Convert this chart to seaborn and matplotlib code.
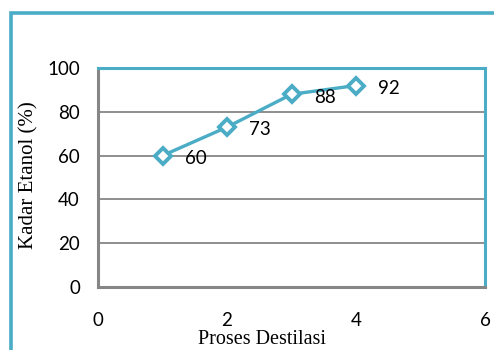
import matplotlib
matplotlib.use("Agg")
import matplotlib.pyplot as plt
from matplotlib.patches import Rectangle
import seaborn as sns
import pandas as pd

# Data
proses = [1, 2, 3, 4]
kadar = [60, 73, 88, 92]
x_ticks = [0, 2, 4, 6]
y_ticks = [0, 20, 40, 60, 80, 100]
x_title = "Proses Destilasi"
y_title = "Kadar Etanol (%)"

df = pd.DataFrame({"proses": proses, "kadar": kadar})

TEAL = "#4BACC6"
GRID = "#868686"

sns.set_theme(style="white")
plt.rcParams["font.family"] = ["Lato", "DejaVu Sans"]

fig = plt.figure(figsize=(4.94, 3.5), dpi=100)
ax = fig.add_axes([98 / 494, 63 / 350, 387 / 494, 219 / 350])

sns.lineplot(data=df, x="proses", y="kadar", ax=ax, color=TEAL, linewidth=2.4,
             marker="D", markersize=8.5, markerfacecolor="white",
             markeredgecolor=TEAL, markeredgewidth=2.8, zorder=5)

for xv, yv in zip(proses, kadar):
    ax.annotate(str(yv), (xv, yv), xytext=(24, -2), textcoords="offset points",
                ha="center", va="center", fontsize=13.5, color="black", zorder=6)

ax.set_xlim(0, 6)
ax.set_ylim(0, 100)
ax.set_xticks(x_ticks)
ax.set_yticks(y_ticks)
ax.tick_params(axis="x", length=0, pad=18, labelsize=13.5, colors="black")
ax.tick_params(axis="y", length=0, pad=13, labelsize=13.5, colors="black")

for yv in y_ticks[1:-1]:
    ax.axhline(yv, color=GRID, linewidth=1.3, zorder=1)

for side in ["top", "right"]:
    ax.spines[side].set_color(TEAL)
    ax.spines[side].set_linewidth(2.2)
for side in ["left", "bottom"]:
    ax.spines[side].set_color(GRID)
    ax.spines[side].set_linewidth(2.2)

ax.set_xlabel(x_title, fontsize=14.5, family=["Liberation Serif"], color="black")
ax.set_ylabel(y_title, fontsize=15, family=["Liberation Serif"], color="black")
ax.xaxis.set_label_coords((262 - 98) / 387, (287 - 330) / 219)
ax.yaxis.label.set_va("center")
ax.yaxis.set_label_coords((29 - 98) / 387, 0.51)

# outer chart frame
fig.patches.append(Rectangle((11 / 494, -0.2), 1.2, 1.2 - 12.5 / 350,
                             transform=fig.transFigure, fill=False,
                             edgecolor=TEAL, linewidth=2.6, zorder=0))

fig.savefig("out.png", dpi=100)
